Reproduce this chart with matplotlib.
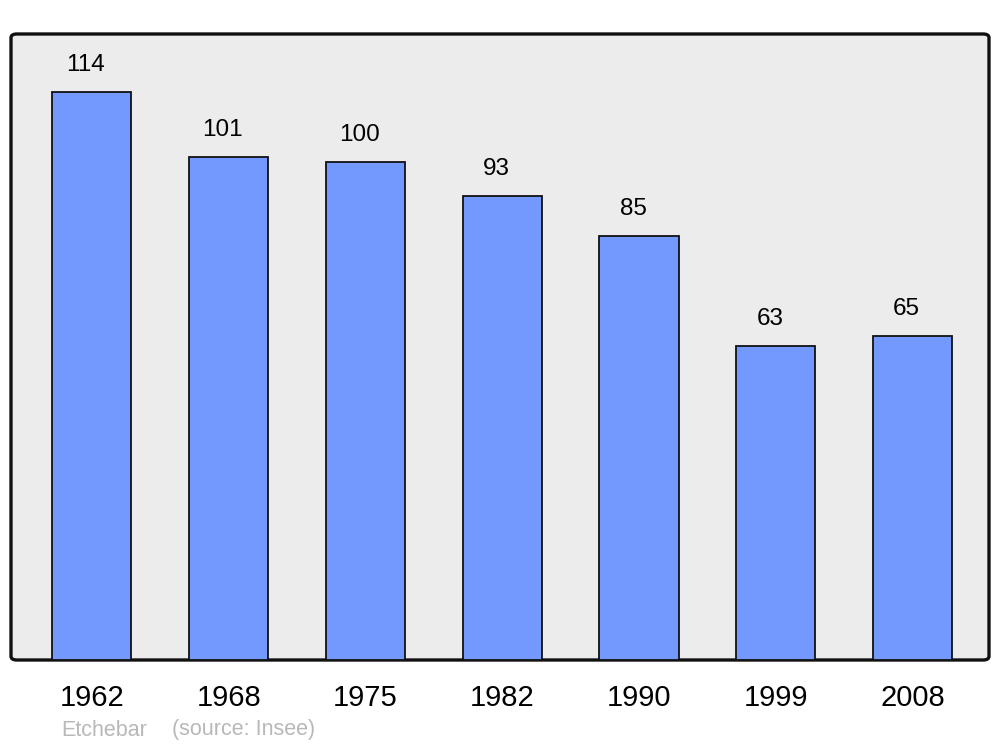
import matplotlib
matplotlib.use("Agg")
import matplotlib.pyplot as plt
from matplotlib.patches import FancyBboxPatch

years = ["1962", "1968", "1975", "1982", "1990", "1999", "2008"]
population = [114, 101, 100, 93, 85, 63, 65]

plt.rcParams['font.family'] = ['Liberation Sans', 'DejaVu Sans']

fig = plt.figure(figsize=(10, 7.47), dpi=100)
W, H = 1000, 747
left, right, top, bottom = 11, 989, 34, 660
ax = fig.add_axes([left / W, (H - bottom) / H, (right - left) / W, (bottom - top) / H])
ax.patch.set_visible(False)
for s in ax.spines.values():
  s.set_visible(False)

panel = FancyBboxPatch((0, 0), 1, 1, boxstyle="round,pad=0,rounding_size=0.006",
                       transform=ax.transAxes, facecolor="#ececec", edgecolor="#111111",
                       linewidth=2.4, clip_on=False, zorder=0)
ax.add_patch(panel)

x = list(range(len(years)))
ax.bar(x, population, width=0.578, color="#7399ff", edgecolor="#111111",
       linewidth=1.3, zorder=2)
ax.set_xlim(-0.592, 6.559)
ax.set_ylim(0, 125.6)

for xi, v in zip(x, population):
  ax.annotate(str(v), (xi, v), xytext=(-6, 27), textcoords="offset pixels",
              ha="center", va="center", fontsize=17.5, color="black")

ax.set_yticks([])
ax.set_xticks(x)
ax.set_xticklabels(years, fontsize=21)
for lab in ax.get_xticklabels():
  lab.set_x(lab.get_position()[0])
ax.tick_params(axis="x", length=0, pad=17)

fig.text(61 / W, 1 - 730 / H, "Etchebar", color="#b8b8b8", fontsize=15.5, va="center")
fig.text(172 / W, 1 - 730 / H, "(source: Insee)", color="#b8b8b8", fontsize=15.5, va="center")

fig.savefig("out.png", dpi=100)
